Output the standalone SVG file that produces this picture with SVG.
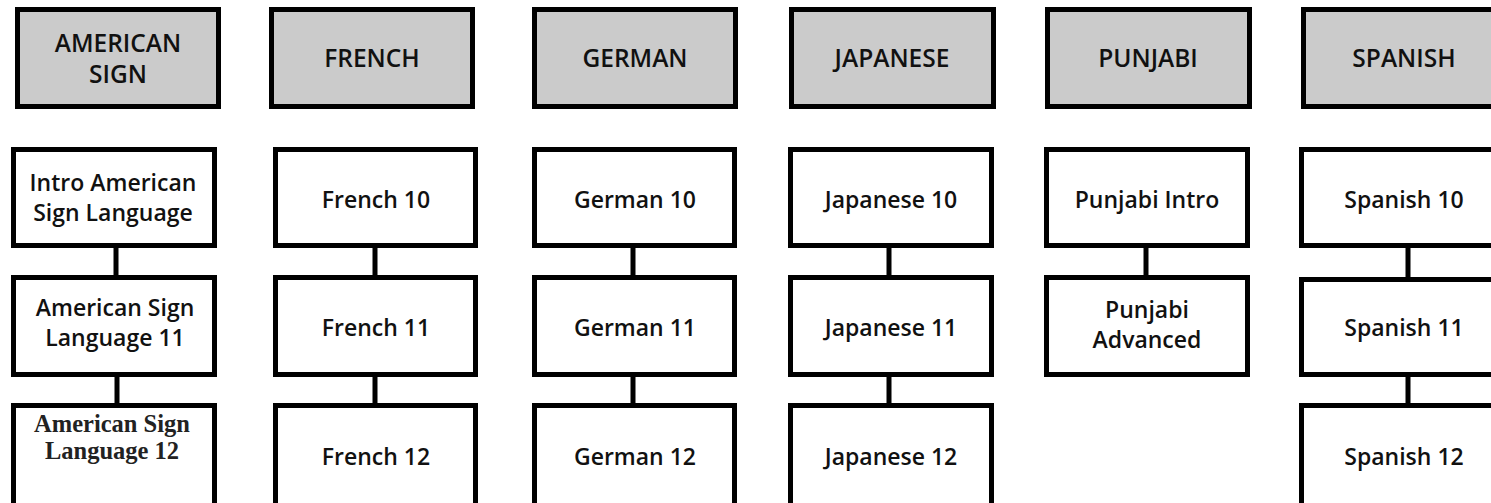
<svg xmlns="http://www.w3.org/2000/svg" width="1491" height="503" viewBox="0 0 1491 503">
<style>
.hdr{fill:#cbcbcb;stroke:#000;stroke-width:5}
.box{fill:#fff;stroke:#000;stroke-width:5}
.h{font-family:"Open Sans","DejaVu Sans",sans-serif;font-weight:600;font-size:24.5px;fill:#111;text-anchor:middle}
.t{font-family:"Open Sans","DejaVu Sans",sans-serif;font-weight:600;font-size:23px;fill:#111;text-anchor:middle}
.s{font-family:"Liberation Serif","Times New Roman",serif;font-weight:bold;font-size:24.5px;fill:#222;text-anchor:middle}
.c{stroke:#000;stroke-width:5;fill:none}
</style>
<rect width="1491" height="503" fill="#fff"/>
<g id="connectors">
<path class="c" d="M116 248V275M117 377V403"/>
<path class="c" d="M375 248V275M375 377V403"/>
<path class="c" d="M633 248V275M633 377V403"/>
<path class="c" d="M889 248V275M889 377V403"/>
<path class="c" d="M1146 248V275"/>
<path class="c" d="M1408 248V277M1408 377V403"/>
</g>
<g id="hdr-american"><rect class="hdr" x="17.5" y="9.5" width="201" height="97"/><text class="h" x="118" y="52"><tspan x="118">AMERICAN</tspan><tspan x="118" dy="31">SIGN</tspan></text></g>
<g id="hdr-french"><rect class="hdr" x="271.5" y="9.5" width="201" height="97"/><text class="h" x="372" y="67">FRENCH</text></g>
<g id="hdr-german"><rect class="hdr" x="534.5" y="9.5" width="201" height="97"/><text class="h" x="635" y="67">GERMAN</text></g>
<g id="hdr-japanese"><rect class="hdr" x="791.5" y="9.5" width="202" height="97"/><text class="h" x="892" y="67">JAPANESE</text></g>
<g id="hdr-punjabi"><rect class="hdr" x="1047.5" y="9.5" width="202" height="97"/><text class="h" x="1148" y="67">PUNJABI</text></g>
<g id="hdr-spanish"><rect class="hdr" x="1303.5" y="9.5" width="201" height="97"/><text class="h" x="1404" y="67">SPANISH</text></g>

<g id="asl-intro"><rect class="box" x="13.5" y="149.5" width="201" height="96"/><text class="t" x="113" y="191"><tspan x="113">Intro American</tspan><tspan x="113" dy="29.5">Sign Language</tspan></text></g>
<g id="asl-11"><rect class="box" x="13.5" y="277.5" width="201" height="97"/><text class="t" x="115" y="316"><tspan x="115">American Sign</tspan><tspan x="115" dy="29.5">Language 11</tspan></text></g>
<g id="asl-12"><rect class="box" x="13.5" y="405.5" width="201" height="110"/><text class="s" x="112" y="432"><tspan x="112">American Sign</tspan><tspan x="112" dy="27">Language 12</tspan></text></g>

<g id="french-10"><rect class="box" x="275.5" y="149.5" width="200" height="96"/><text class="t" x="376" y="208">French 10</text></g>
<g id="french-11"><rect class="box" x="275.5" y="277.5" width="200" height="97"/><text class="t" x="376" y="336">French 11</text></g>
<g id="french-12"><rect class="box" x="275.5" y="405.5" width="200" height="110"/><text class="t" x="376" y="465">French 12</text></g>

<g id="german-10"><rect class="box" x="534.5" y="149.5" width="200" height="96"/><text class="t" x="635" y="208">German 10</text></g>
<g id="german-11"><rect class="box" x="534.5" y="277.5" width="200" height="97"/><text class="t" x="635" y="336">German 11</text></g>
<g id="german-12"><rect class="box" x="534.5" y="405.5" width="200" height="110"/><text class="t" x="635" y="465">German 12</text></g>

<g id="japanese-10"><rect class="box" x="790.5" y="149.5" width="201" height="96"/><text class="t" x="891" y="208">Japanese 10</text></g>
<g id="japanese-11"><rect class="box" x="790.5" y="277.5" width="201" height="97"/><text class="t" x="891" y="336">Japanese 11</text></g>
<g id="japanese-12"><rect class="box" x="790.5" y="405.5" width="201" height="110"/><text class="t" x="891" y="465">Japanese 12</text></g>

<g id="punjabi-intro"><rect class="box" x="1046.5" y="149.5" width="201" height="96"/><text class="t" x="1147" y="208">Punjabi Intro</text></g>
<g id="punjabi-adv"><rect class="box" x="1046.5" y="277.5" width="201" height="97"/><text class="t" x="1147" y="318"><tspan x="1147">Punjabi</tspan><tspan x="1147" dy="29.5">Advanced</tspan></text></g>

<g id="spanish-10"><rect class="box" x="1301.5" y="149.5" width="201" height="96"/><text class="t" x="1404" y="208">Spanish 10</text></g>
<g id="spanish-11"><rect class="box" x="1301.5" y="279.5" width="201" height="95"/><text class="t" x="1404" y="336">Spanish 11</text></g>
<g id="spanish-12"><rect class="box" x="1301.5" y="405.5" width="201" height="110"/><text class="t" x="1404" y="465">Spanish 12</text></g>
</svg>
